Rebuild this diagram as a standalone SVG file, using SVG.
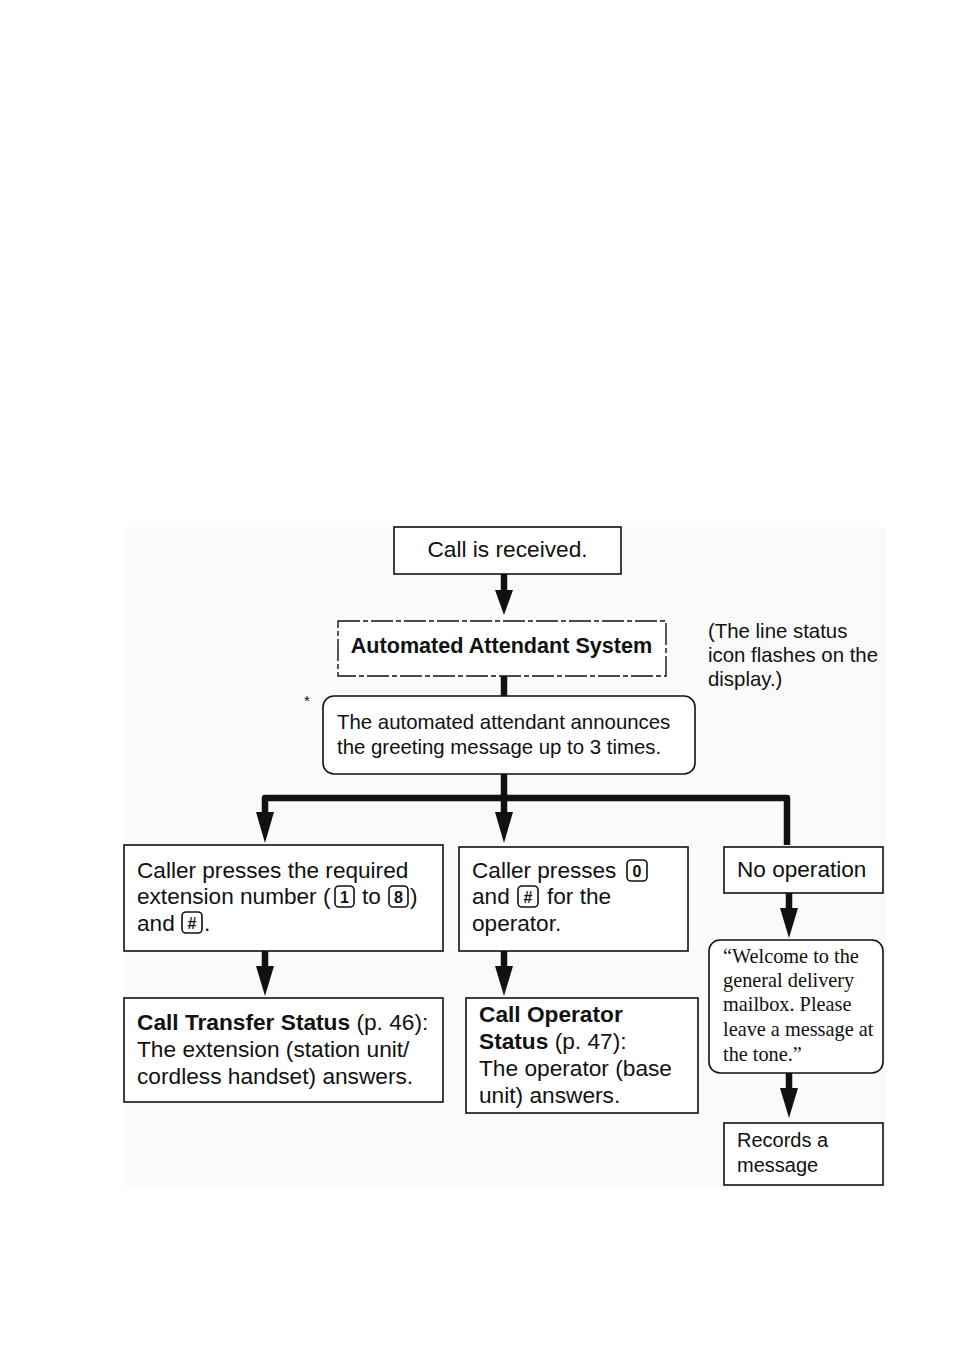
<svg xmlns="http://www.w3.org/2000/svg" width="954" height="1351" viewBox="0 0 954 1351">
<style>
.box{fill:#fff;stroke:#111;stroke-width:1.6}
.t{font-family:"Liberation Sans",Arial,sans-serif;fill:#111}
.s{font-family:"Liberation Serif","Times New Roman",serif;fill:#111;font-size:20.3px}
.b{font-weight:bold}
.key{fill:none;stroke:#111;stroke-width:1.6}
.k{font-family:"Liberation Sans",Arial,sans-serif;font-weight:bold;font-size:16px;fill:#111;text-anchor:middle}
.sh{fill:none;stroke:#111;stroke-width:6.5;stroke-linejoin:round}
.hd{fill:#111}
</style>
<rect width="954" height="1351" fill="#fff"/>
<rect x="124" y="527" width="762" height="660" fill="#fafafa"/>
<g id="connectors">
<line class="sh" x1="504" y1="574" x2="504" y2="592"/>
<polygon class="hd" points="495,590 513,590 504,615"/>
<line class="sh" x1="504" y1="676" x2="504" y2="696"/>
<line class="sh" x1="504" y1="774" x2="504" y2="818"/>
<polyline class="sh" points="265,818 265,798 787,798 787,845"/>
<polygon class="hd" points="256,812 274,812 265,843"/>
<polygon class="hd" points="495,812 513,812 504,843"/>
<line class="sh" x1="265" y1="951" x2="265" y2="970"/>
<polygon class="hd" points="256,966 274,966 265,996"/>
<line class="sh" x1="504" y1="951" x2="504" y2="970"/>
<polygon class="hd" points="495,966 513,966 504,996"/>
<line class="sh" x1="789" y1="893" x2="789" y2="912"/>
<polygon class="hd" points="780,908 798,908 789,938"/>
<line class="sh" x1="789" y1="1073" x2="789" y2="1093"/>
<polygon class="hd" points="780,1088 798,1088 789,1118"/>
</g>
<g id="n-received">
<rect class="box" x="394" y="527" width="227" height="47"/>
<text class="t" x="507.5" y="557" font-size="22.7" text-anchor="middle">Call is received.</text>
</g>
<g id="n-aas">
<rect x="338" y="621" width="328" height="55" fill="#fff" stroke="#111" stroke-width="1.4" stroke-dasharray="22,3,5,3"/>
<text class="t b" x="501.5" y="653" font-size="21.6" text-anchor="middle">Automated Attendant System</text>
</g>
<g id="n-note">
<text class="t" font-size="20.4"><tspan x="708" y="638">(The line status</tspan><tspan x="708" y="662">icon flashes on the</tspan><tspan x="708" y="686">display.)</tspan></text>
</g>
<g id="n-greeting">
<text class="t" x="304" y="706" font-size="15">*</text>
<rect class="box" x="323" y="696" width="372" height="78" rx="11"/>
<text class="t" font-size="20.4"><tspan x="337" y="729">The automated attendant announces</tspan><tspan x="337" y="754">the greeting message up to 3 times.</tspan></text>
</g>
<g id="n-ext">
<rect class="box" x="124" y="845" width="319" height="106"/>
<text class="t" font-size="22.6"><tspan x="137" y="878">Caller presses the required</tspan><tspan x="137" y="904">extension number (</tspan><tspan x="362" y="904">to</tspan><tspan x="410" y="904">)</tspan><tspan x="137" y="931">and</tspan><tspan x="204" y="931">.</tspan></text>
<rect class="key" x="335" y="886" width="19" height="21" rx="4"/>
<text class="k" x="344.5" y="902.5">1</text>
<rect class="key" x="389" y="886" width="19" height="21" rx="4"/>
<text class="k" x="398.5" y="902.5">8</text>
<rect class="key" x="182" y="912" width="20" height="21" rx="4"/>
<text class="k" x="192" y="928.5">#</text>
</g>
<g id="n-op">
<rect class="box" x="459" y="847" width="229" height="104"/>
<text class="t" font-size="22.6"><tspan x="472" y="878">Caller presses</tspan><tspan x="472" y="904">and</tspan><tspan x="547" y="904">for the</tspan><tspan x="472" y="931">operator.</tspan></text>
<rect class="key" x="627" y="860" width="20" height="21" rx="4"/>
<text class="k" x="637" y="876.5">0</text>
<rect class="key" x="518" y="886" width="20" height="21" rx="4"/>
<text class="k" x="528" y="902.5">#</text>
</g>
<g id="n-noop">
<rect class="box" x="724" y="847" width="159" height="46"/>
<text class="t" x="737" y="877" font-size="22.6">No operation</text>
</g>
<g id="n-transfer">
<rect class="box" x="124" y="998" width="319" height="104"/>
<text class="t" font-size="22.7"><tspan x="137" y="1030" font-weight="bold">Call Transfer Status</tspan><tspan> (p. 46):</tspan><tspan x="137" y="1057">The extension (station unit/</tspan><tspan x="137" y="1084">cordless handset) answers.</tspan></text>
</g>
<g id="n-opstatus">
<rect class="box" x="466" y="998" width="232" height="115"/>
<text class="t" font-size="22.7"><tspan x="479" y="1022" font-weight="bold">Call Operator</tspan><tspan x="479" y="1049" font-weight="bold">Status</tspan><tspan> (p. 47):</tspan><tspan x="479" y="1076">The operator (base</tspan><tspan x="479" y="1103">unit) answers.</tspan></text>
</g>
<g id="n-welcome">
<rect class="box" x="709" y="940" width="174" height="133" rx="11"/>
<text class="s"><tspan x="723" y="963">“Welcome to the</tspan><tspan x="723" y="987">general delivery</tspan><tspan x="723" y="1011">mailbox. Please</tspan><tspan x="723" y="1036">leave a message at</tspan><tspan x="723" y="1061">the tone.”</tspan></text>
</g>
<g id="n-records">
<rect class="box" x="724" y="1123" width="159" height="62"/>
<text class="t" font-size="20"><tspan x="737" y="1147">Records a</tspan><tspan x="737" y="1172">message</tspan></text>
</g>
</svg>
